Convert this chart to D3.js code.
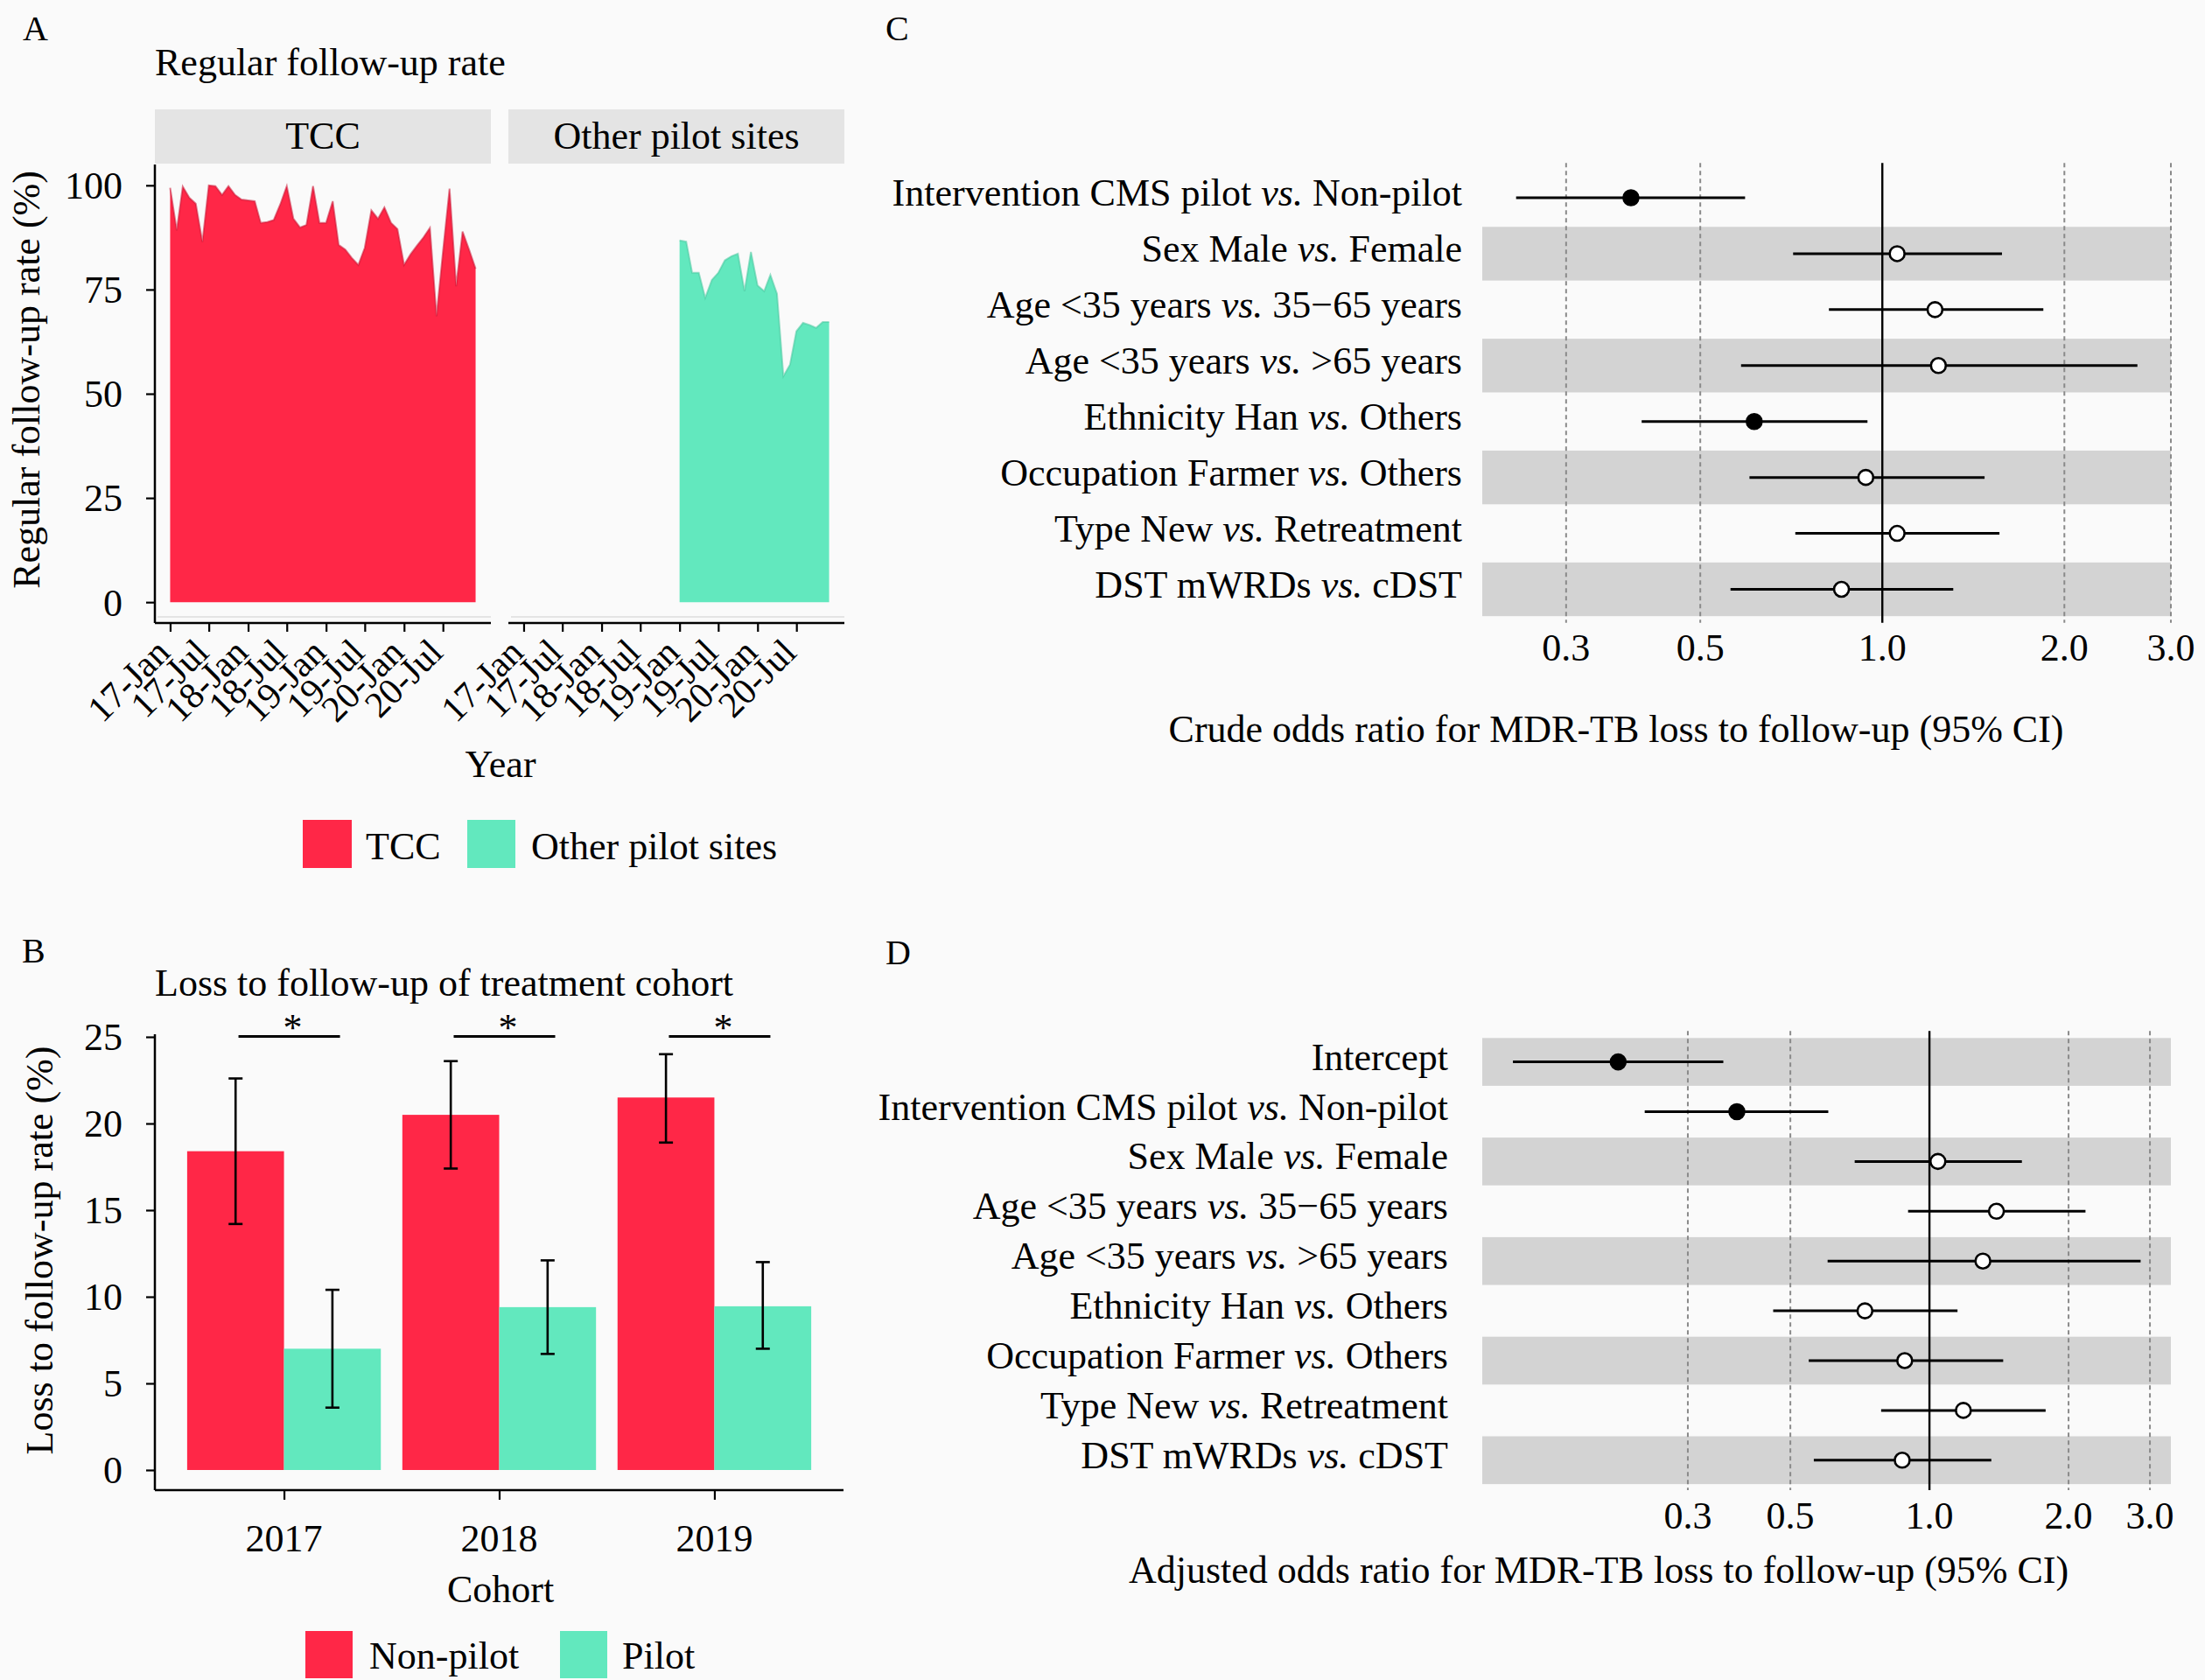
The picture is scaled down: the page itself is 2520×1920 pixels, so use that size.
<!DOCTYPE html>
<html><head><meta charset="utf-8">
<script src="https://cdn.jsdelivr.net/npm/d3@7"></script>
<style>
body{margin:0;background:#FAFAFA;}
svg{display:block;}
</style></head><body>
<script>
// ---------------- DATA ----------------
// Panel A: monthly regular follow-up rate (%)
const tccRate = [99.4, 89.2, 99.7, 97.0, 95.6, 86.4, 100, 99.8, 97.7, 99.8, 97.7, 96.6,
                 96.4, 96.2, 91.0, 91.2, 91.7, 95.5, 99.8, 92.0, 89.9, 90.5, 99.8, 91.0,
                 91.0, 96.2, 85.7, 84.6, 82.6, 80.9, 85.0, 94.0, 92.0, 94.7, 91.0, 89.5,
                 80.9, 83.5, 85.5, 87.5, 89.8, 68.6, 84.0, 99.2, 75.8, 88.9, 84.5, 80.0];
const pilotRate = [86.8, 86.5, 79.0, 79.0, 73.0, 77.3, 79.0, 82.0, 83.0, 83.6, 74.6, 84.0,
                   76.0, 74.6, 78.5, 74.0, 54.2, 57.0, 65.0, 67.0, 66.5, 65.8, 67.2, 67.2];
const tccStart = "2017-01", pilotStart = "2019-01", seriesEnd = "2020-12";
const xTickLabelsA = ["17-Jan","17-Jul","18-Jan","18-Jul","19-Jan","19-Jul","20-Jan","20-Jul"];
const yTicksA = [0, 25, 50, 75, 100];
const facetNames = ["TCC", "Other pilot sites"];

// Panel B: loss to follow-up by cohort (%)
const cohorts = ["2017", "2018", "2019"];
const nonPilotLTFU = [18.4, 20.5, 21.5];
const nonPilotLow  = [14.2, 17.4, 18.9];
const nonPilotHigh = [22.6, 23.6, 24.0];
const pilotLTFU = [7.0, 9.4, 9.45];
const pilotLow  = [3.6, 6.7, 7.0];
const pilotHigh = [10.4, 12.1, 12.0];
const yTicksB = [0, 5, 10, 15, 20, 25];
const groupsB = ["Non-pilot", "Pilot"];

// Panel C: crude odds ratios
const crudeFactor = ["Intervention CMS pilot", "Sex Male", "Age <35 years", "Age <35 years",
                     "Ethnicity Han", "Occupation Farmer", "Type New", "DST mWRDs"];
const crudeRef = ["Non-pilot", "Female", "35\u221265 years", ">65 years", "Others", "Others", "Retreatment", "cDST"];
const crudeOR   = [0.384, 1.058, 1.222, 1.238, 0.614, 0.939, 1.058, 0.856];
const crudeLow  = [0.248, 0.712, 0.816, 0.584, 0.400, 0.603, 0.718, 0.561];
const crudeHigh = [0.593, 1.577, 1.846, 2.641, 0.945, 1.476, 1.562, 1.310];
const crudeSig  = [true, false, false, false, true, false, false, false];

// Panel D: adjusted odds ratios
const adjFactor = ["Intercept", "Intervention CMS pilot", "Sex Male", "Age <35 years", "Age <35 years",
                   "Ethnicity Han", "Occupation Farmer", "Type New", "DST mWRDs"];
const adjRef = ["", "Non-pilot", "Female", "35\u221265 years", ">65 years", "Others", "Others", "Retreatment", "cDST"];
const adjOR   = [0.212, 0.383, 1.043, 1.396, 1.305, 0.725, 0.884, 1.184, 0.873];
const adjLow  = [0.1255, 0.242, 0.689, 0.899, 0.602, 0.459, 0.548, 0.786, 0.562];
const adjHigh = [0.358, 0.604, 1.585, 2.176, 2.864, 1.150, 1.444, 1.784, 1.361];
const adjSig  = [true, true, false, false, false, false, false, false, false];

const orTicks = [0.3, 0.5, 1.0, 2.0, 3.0];

// ---------------- STYLE ----------------
const RED = "#FF2747", GREEN = "#62E8BE";
const RED_EDGE = "#C81634", GREEN_EDGE = "#48C79E";
const FS = 44;
const FONT = '"Liberation Serif","Times New Roman",Times,serif';

const svg = d3.select("body").append("svg")
  .attr("width", 2520).attr("height", 1920)
  .style("font-family", FONT).style("font-size", FS + "px");
svg.append("rect").attr("width", 2520).attr("height", 1920).attr("fill", "#FAFAFA");

function text(x, y, s, anchor = "start", size = FS) {
  return svg.append("text").attr("x", x).attr("y", y).attr("text-anchor", anchor)
    .style("font-size", size + "px").attr("fill", "#000").text(s);
}

// panel letters
text(26, 46, "A", "start", 40);
text(25, 1100, "B", "start", 40);
text(1012, 46, "C", "start", 40);
text(1012, 1102, "D", "start", 40);

// ================= PANEL A =================
(function () {
  const parse = d3.timeParse("%Y-%m");
  const months = d3.timeMonth.range(parse(tccStart), d3.timeMonth.offset(parse(seriesEnd), 1));
  const pMonths = d3.timeMonth.range(parse(pilotStart), d3.timeMonth.offset(parse(seriesEnd), 1));
  const tccData = months.map((d, i) => ({ date: d, v: tccRate[i] }));
  const pilotData = pMonths.map((d, i) => ({ date: d, v: pilotRate[i] }));
  const t0 = months[0], t1 = months[months.length - 1];
  const span = t1 - t0;
  const dom = [new Date(+t0 - 0.05 * span), new Date(+t1 + 0.05 * span)];
  const top = 188, bottom = 712, facetW = 384;
  const y = d3.scaleLinear().domain([-5, 105]).range([bottom, top]);
  const facets = [
    { name: facetNames[0], left: 177, data: tccData, fill: RED, edge: RED_EDGE },
    { name: facetNames[1], left: 581, data: pilotData, fill: GREEN, edge: GREEN_EDGE }
  ];
  const tickDates = d3.timeMonth.every(6).range(t0, t1);

  text(177, 86, "Regular follow-up rate");

  facets.forEach((f, fi) => {
    const x = d3.scaleTime().domain(dom).range([f.left, f.left + facetW]);
    // strip
    svg.append("rect").attr("x", f.left).attr("y", 125).attr("width", facetW).attr("height", 62)
      .attr("fill", "#E4E4E4");
    text(f.left + facetW / 2, 170, f.name, "middle");
    // area
    const area = d3.area().x(d => x(d.date)).y0(y(0)).y1(d => y(d.v));
    svg.append("path").datum(f.data).attr("d", area).attr("fill", f.fill);
    const line = d3.line().x(d => x(d.date)).y(d => y(d.v));
    svg.append("path").datum(f.data).attr("d", line).attr("fill", "none")
      .attr("stroke", f.edge).attr("stroke-width", 2).attr("stroke-opacity", 0.55);
    // faint bottom line of panel
    svg.append("line").attr("x1", f.left + 3).attr("x2", f.left + facetW).attr("y1", 705).attr("y2", 705)
      .attr("stroke", "#DCDCDC").attr("stroke-width", 1.5);
    // x axis
    const ax = svg.append("g").attr("transform", `translate(0,${bottom})`)
      .call(d3.axisBottom(x).tickValues(tickDates).tickSize(10).tickSizeOuter(0).tickFormat(""));
    ax.select(".domain").attr("stroke", "#000").attr("stroke-width", 2.5)
      .attr("d", `M${f.left},0H${f.left + facetW}`);
    ax.selectAll(".tick line").attr("stroke", "#000").attr("stroke-width", 2.2);
    tickDates.forEach((d, i) => {
      svg.append("text").attr("transform", `translate(${x(d) + 2},748) rotate(-45)`)
        .attr("text-anchor", "end").style("font-size", "42px").text(xTickLabelsA[i]);
    });
    if (fi === 0) {
      const ay = svg.append("g").attr("transform", `translate(${f.left},0)`)
        .call(d3.axisLeft(y).tickValues(yTicksA).tickSize(10).tickSizeOuter(0).tickFormat(""));
      ay.select(".domain").attr("stroke", "#000").attr("stroke-width", 2.5)
        .attr("d", `M0,${top}V${bottom}`);
      ay.selectAll(".tick line").attr("stroke", "#000").attr("stroke-width", 2.2);
      yTicksA.forEach(v => {
        svg.append("text").attr("x", 140).attr("y", y(v)).attr("dy", "0.35em")
          .attr("text-anchor", "end").text(v);
      });
    }
  });
  svg.append("text").attr("transform", "translate(45,434) rotate(-90)")
    .attr("text-anchor", "middle").text("Regular follow-up rate (%)");
  text(572, 888, "Year", "middle");
  // legend
  svg.append("rect").attr("x", 346).attr("y", 937).attr("width", 56).attr("height", 55).attr("fill", RED);
  text(418, 982, facetNames[0]);
  svg.append("rect").attr("x", 534).attr("y", 937).attr("width", 55).attr("height", 55).attr("fill", GREEN);
  text(607, 982, facetNames[1]);
})();

// ================= PANEL B =================
(function () {
  const left = 177, right = 964, yAxisTop = 1182, axisY = 1703;
  const x = d3.scalePoint().domain(cohorts).range([left, right]).padding(0.6);
  const step = x.step();
  const bw = 0.45 * step;
  const y = d3.scaleLinear().domain([0, 25]).range([1680, 1185]);

  text(177, 1138, "Loss to follow-up of treatment cohort");

  const series = [
    { vals: nonPilotLTFU, lo: nonPilotLow, hi: nonPilotHigh, color: RED, off: -bw },
    { vals: pilotLTFU, lo: pilotLow, hi: pilotHigh, color: GREEN, off: 0 }
  ];
  series.forEach(s => {
    cohorts.forEach((c, i) => {
      svg.append("rect").attr("x", x(c) + s.off).attr("y", y(s.vals[i]))
        .attr("width", bw).attr("height", y(0) - y(s.vals[i])).attr("fill", s.color);
    });
  });
  series.forEach(s => {
    cohorts.forEach((c, i) => {
      const cx = x(c) + s.off + bw / 2;
      const g = svg.append("g").attr("stroke", "#000").attr("stroke-width", 2.6);
      g.append("line").attr("x1", cx).attr("x2", cx).attr("y1", y(s.lo[i])).attr("y2", y(s.hi[i]));
      g.append("line").attr("x1", cx - 8).attr("x2", cx + 8).attr("y1", y(s.lo[i])).attr("y2", y(s.lo[i]));
      g.append("line").attr("x1", cx - 8).attr("x2", cx + 8).attr("y1", y(s.hi[i])).attr("y2", y(s.hi[i]));
    });
  });
  // significance brackets
  cohorts.forEach(c => {
    svg.append("line").attr("x1", x(c) - 52).attr("x2", x(c) + 64).attr("y1", 1184.5).attr("y2", 1184.5)
      .attr("stroke", "#000").attr("stroke-width", 2.8);
    text(x(c) + 10, 1189, "*", "middle");
  });
  // axes
  const ay = svg.append("g").attr("transform", `translate(${left},0)`)
    .call(d3.axisLeft(y).tickValues(yTicksB).tickSize(10).tickSizeOuter(0).tickFormat(""));
  ay.select(".domain").attr("stroke", "#000").attr("stroke-width", 2.5).attr("d", `M0,${yAxisTop}V${axisY}`);
  ay.selectAll(".tick line").attr("stroke", "#000").attr("stroke-width", 2.2);
  yTicksB.forEach(v => {
    svg.append("text").attr("x", 140).attr("y", y(v)).attr("dy", "0.35em").attr("text-anchor", "end").text(v);
  });
  const ax = svg.append("g").attr("transform", `translate(0,${axisY})`)
    .call(d3.axisBottom(x).tickSize(11).tickSizeOuter(0).tickFormat(""));
  ax.select(".domain").attr("stroke", "#000").attr("stroke-width", 2.5).attr("d", `M${left},0H${right}`);
  ax.selectAll(".tick line").attr("stroke", "#000").attr("stroke-width", 2.2);
  cohorts.forEach(c => text(x(c), 1773, c, "middle"));
  text(572, 1831, "Cohort", "middle");
  svg.append("text").attr("transform", "translate(60,1429) rotate(-90)")
    .attr("text-anchor", "middle").text("Loss to follow-up rate (%)");
  // legend
  svg.append("rect").attr("x", 349).attr("y", 1864).attr("width", 54).attr("height", 54).attr("fill", RED);
  text(422, 1907, groupsB[0]);
  svg.append("rect").attr("x", 640).attr("y", 1864).attr("width", 54).attr("height", 54).attr("fill", GREEN);
  text(711, 1907, groupsB[1]);
})();

// ================= FOREST PLOTS =================
function forest(cfg) {
  const n = cfg.factor.length;
  const x = d3.scaleLog().domain(cfg.domain).range([1694, 2481]);
  const y = d3.scalePoint().domain(d3.range(n)).range(cfg.rowRange);
  const step = (cfg.rowRange[1] - cfg.rowRange[0]) / (n - 1);
  const lineTop = cfg.rowRange[0] - 0.62 * step, lineBot = cfg.rowRange[1] + 0.6 * step;
  // bands
  d3.range(n).forEach(i => {
    if ((n - 1 - i) % 2 === 0) {
      svg.append("rect").attr("x", x.range()[0]).attr("y", y(i) - 0.48 * step)
        .attr("width", x.range()[1] - x.range()[0]).attr("height", 0.96 * step).attr("fill", "#D3D3D3");
    }
  });
  // reference lines
  orTicks.forEach(t => {
    const l = svg.append("line").attr("x1", x(t)).attr("x2", x(t)).attr("y1", lineTop).attr("y2", lineBot);
    if (t === 1) l.attr("stroke", "#000").attr("stroke-width", 2.4);
    else l.attr("stroke", "#8A8A8A").attr("stroke-width", 2).attr("stroke-dasharray", "5,4");
  });
  // CIs and points
  d3.range(n).forEach(i => {
    svg.append("line").attr("x1", x(cfg.low[i])).attr("x2", x(cfg.high[i]))
      .attr("y1", y(i)).attr("y2", y(i)).attr("stroke", "#000").attr("stroke-width", 3);
  });
  d3.range(n).forEach(i => {
    svg.append("circle").attr("cx", x(cfg.or[i])).attr("cy", y(i)).attr("r", 8.5)
      .attr("fill", cfg.sig[i] ? "#000" : "#fff").attr("stroke", "#000").attr("stroke-width", 2.6);
  });
  // row labels
  d3.range(n).forEach(i => {
    const t = svg.append("text").attr("x", cfg.labelX).attr("y", y(i) + 9)
      .attr("text-anchor", "end").style("white-space", "pre");
    if (cfg.ref[i]) {
      t.append("tspan").text(cfg.factor[i] + " ");
      t.append("tspan").style("font-style", "italic").text("vs.");
      t.append("tspan").text(" " + cfg.ref[i]);
    } else {
      t.text(cfg.factor[i]);
    }
  });
  // tick labels
  orTicks.forEach(t => text(x(t), cfg.tickY, d3.format(".1f")(t), "middle"));
  text(cfg.titleX, cfg.titleY, cfg.title, "middle");
}

forest({
  factor: crudeFactor, ref: crudeRef, or: crudeOR, low: crudeLow, high: crudeHigh, sig: crudeSig,
  domain: [0.218, 3.0], rowRange: [226, 673.5], labelX: 1671, tickY: 755,
  title: "Crude odds ratio for MDR-TB loss to follow-up (95% CI)", titleX: 1847, titleY: 848
});
forest({
  factor: adjFactor, ref: adjRef, or: adjOR, low: adjLow, high: adjHigh, sig: adjSig,
  domain: [0.1077, 3.33], rowRange: [1213.6, 1668.8], labelX: 1655, tickY: 1747,
  title: "Adjusted odds ratio for MDR-TB loss to follow-up (95% CI)", titleX: 1827, titleY: 1809
});
</script>
</body></html>
